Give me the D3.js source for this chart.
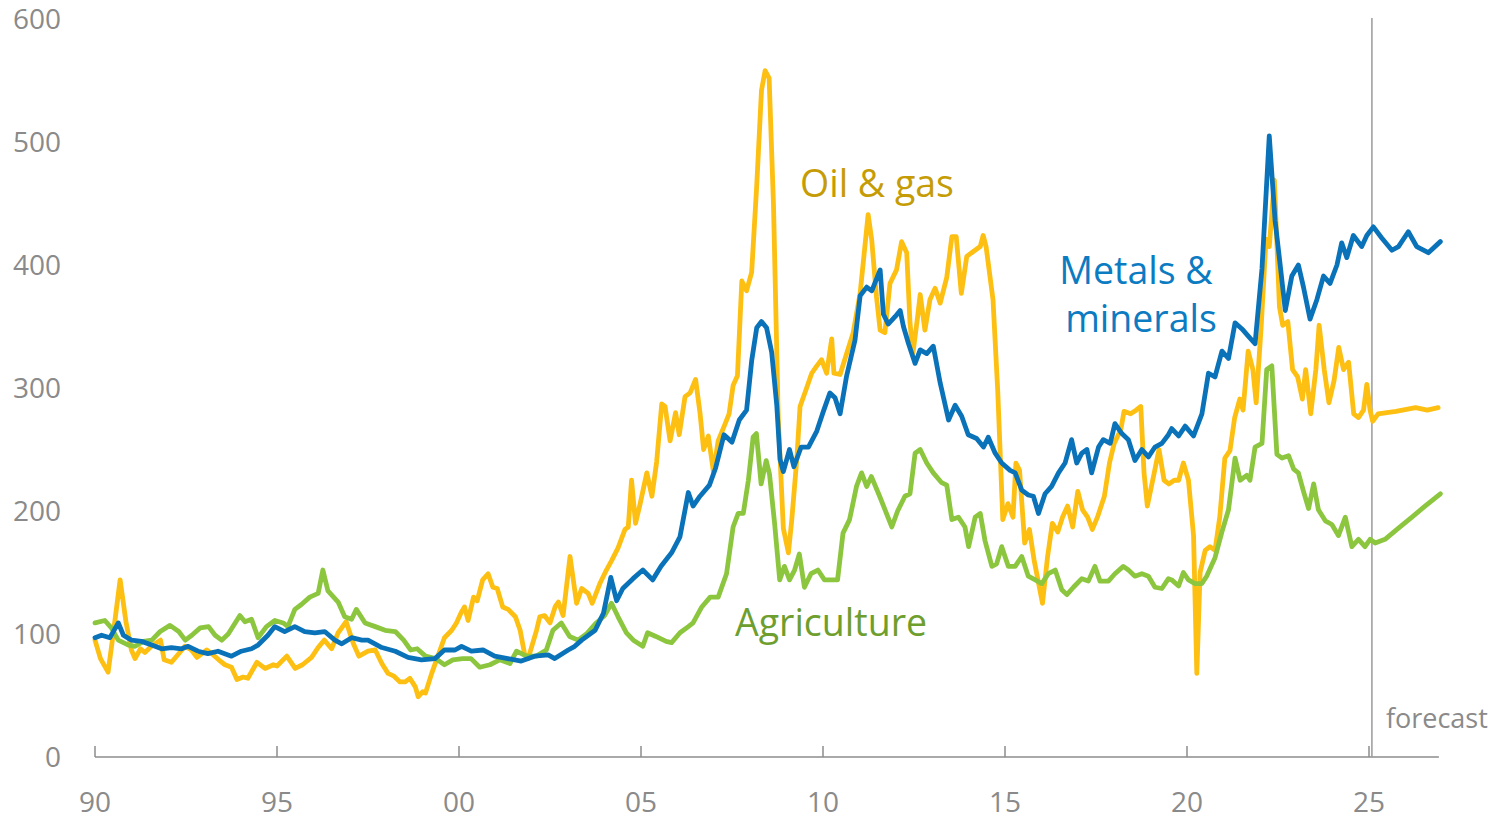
<!DOCTYPE html>
<html>
<head>
<meta charset="utf-8">
<script src="https://cdn.jsdelivr.net/npm/d3@7"></script>
<style>
  html, body { margin: 0; padding: 0; background: #fff; }
  svg { display: block; }
</style>
</head>
<body>
<svg id="chart" width="1494" height="819"></svg>
<script>
// Commodity price indices (1990 = 100), [decimal year, index value]
const oilGas = [
  [1990.00,95],[1990.15,80],[1990.36,69],[1990.50,100],[1990.69,144],[1990.85,110],[1991.00,87],[1991.10,80],
  [1991.25,88],[1991.37,85],[1991.55,90],[1991.70,93],[1991.80,95],[1991.90,79],[1992.10,77],[1992.30,84],
  [1992.47,90],[1992.65,87],[1992.80,81],[1993.07,87],[1993.25,83],[1993.40,79],[1993.57,75],[1993.75,73],
  [1993.90,63],[1994.07,65],[1994.20,64],[1994.45,77],[1994.67,72],[1994.90,75],[1995.00,74],[1995.27,82],
  [1995.50,72],[1995.70,75],[1995.95,81],[1996.13,89],[1996.30,95],[1996.50,88],[1996.68,101],[1996.90,110],
  [1997.10,92],[1997.25,82],[1997.50,86],[1997.70,87],[1997.88,76],[1998.05,68],[1998.20,66],[1998.38,61],
  [1998.52,61],[1998.65,64],[1998.80,57],[1998.88,49],[1999.00,53],[1999.08,52],[1999.25,68],[1999.42,82],
  [1999.60,97],[1999.80,103],[1999.93,109],[2000.07,118],[2000.15,122],[2000.25,111],[2000.40,130],[2000.50,127],
  [2000.65,144],[2000.80,149],[2000.93,138],[2001.05,137],[2001.20,122],[2001.35,120],[2001.55,114],[2001.68,103],
  [2001.80,84],[2001.90,80],[2002.13,103],[2002.22,114],[2002.35,115],[2002.50,109],[2002.64,122],[2002.73,126],
  [2002.86,115],[2003.05,163],[2003.23,125],[2003.37,137],[2003.55,133],[2003.66,125],[2003.87,141],[2004.05,152],
  [2004.20,160],[2004.37,170],[2004.56,185],[2004.65,187],[2004.74,225],[2004.85,190],[2004.97,205],[2005.16,231],
  [2005.30,212],[2005.43,240],[2005.57,287],[2005.66,285],[2005.80,257],[2005.95,280],[2006.05,262],[2006.21,293],
  [2006.35,296],[2006.50,307],[2006.62,280],[2006.72,250],[2006.85,261],[2006.99,232],[2007.12,257],[2007.30,270],
  [2007.42,279],[2007.53,302],[2007.65,310],[2007.77,387],[2007.90,379],[2008.04,394],[2008.18,465],[2008.31,542],
  [2008.41,558],[2008.52,552],[2008.64,449],[2008.77,276],[2008.91,186],[2009.05,166],[2009.14,192],[2009.28,242],
  [2009.37,285],[2009.55,300],[2009.69,312],[2009.83,318],[2009.96,323],[2010.10,312],[2010.24,340],[2010.30,312],
  [2010.47,311],[2010.65,328],[2010.83,345],[2011.02,377],[2011.24,441],[2011.34,420],[2011.47,374],[2011.57,347],
  [2011.70,345],[2011.84,385],[2012.02,396],[2012.16,419],[2012.30,410],[2012.39,353],[2012.47,328],[2012.60,358],
  [2012.67,376],[2012.80,347],[2012.94,372],[2013.08,381],[2013.22,369],[2013.40,390],[2013.54,423],[2013.66,423],
  [2013.80,377],[2013.95,407],[2014.13,411],[2014.32,415],[2014.40,424],[2014.48,415],[2014.67,372],[2014.80,298],
  [2014.94,193],[2015.08,206],[2015.22,195],[2015.30,239],[2015.40,233],[2015.54,174],[2015.67,185],[2015.80,160],
  [2016.03,125],[2016.17,163],[2016.30,190],[2016.45,183],[2016.58,195],[2016.72,204],[2016.86,187],[2017.00,216],
  [2017.13,201],[2017.27,195],[2017.40,185],[2017.54,195],[2017.73,212],[2017.87,239],[2018.00,255],[2018.18,266],
  [2018.27,281],[2018.45,279],[2018.60,282],[2018.73,285],[2018.82,231],[2018.91,204],[2019.10,231],[2019.23,250],
  [2019.37,225],[2019.50,222],[2019.65,225],[2019.77,225],[2019.90,239],[2020.04,225],[2020.18,180],[2020.27,68],
  [2020.36,150],[2020.50,168],[2020.63,171],[2020.77,168],[2020.90,195],[2021.04,243],[2021.18,249],[2021.31,276],
  [2021.45,291],[2021.54,282],[2021.68,330],[2021.81,315],[2021.90,288],[2022.04,351],[2022.17,421],[2022.26,415],
  [2022.40,469],[2022.54,366],[2022.63,351],[2022.77,354],[2022.90,315],[2023.04,309],[2023.17,291],[2023.26,315],
  [2023.40,279],[2023.54,315],[2023.63,351],[2023.77,315],[2023.90,288],[2024.04,306],[2024.17,333],[2024.30,315],
  [2024.44,321],[2024.58,279],[2024.71,276],[2024.85,282],[2024.94,303],[2025.03,282],[2025.10,273],[2025.25,279],
  [2025.74,281],[2026.28,284],[2026.60,282],[2026.90,284]
];

const metalsMinerals = [
  [1990.00,97],[1990.18,99],[1990.41,97],[1990.64,109],[1990.78,99],[1991.00,95],[1991.28,94],[1991.56,91],
  [1991.83,88],[1992.10,89],[1992.38,88],[1992.56,90],[1992.83,86],[1993.10,84],[1993.38,86],[1993.75,82],
  [1994.02,86],[1994.30,88],[1994.48,91],[1994.75,99],[1994.94,106],[1995.21,102],[1995.49,106],[1995.76,102],
  [1996.04,101],[1996.31,102],[1996.59,95],[1996.78,92],[1997.05,97],[1997.33,95],[1997.50,95],[1997.88,89],
  [1998.25,86],[1998.60,81],[1998.97,79],[1999.34,80],[1999.60,87],[1999.89,87],[2000.07,90],[2000.34,86],
  [2000.66,87],[2000.98,82],[2001.34,80],[2001.71,78],[2002.08,82],[2002.45,83],[2002.63,80],[2003.00,87],
  [2003.18,90],[2003.37,95],[2003.74,103],[2003.97,117],[2004.17,146],[2004.33,127],[2004.50,137],[2004.78,145],
  [2005.05,152],[2005.32,144],[2005.55,155],[2005.84,166],[2006.07,179],[2006.30,215],[2006.43,204],[2006.62,212],
  [2006.88,221],[2007.05,235],[2007.28,262],[2007.50,256],[2007.70,274],[2007.90,282],[2008.04,322],[2008.18,349],
  [2008.31,354],[2008.45,349],[2008.59,329],[2008.73,286],[2008.82,242],[2008.91,232],[2009.08,250],[2009.20,236],
  [2009.40,252],[2009.60,252],[2009.83,265],[2010.01,281],[2010.19,296],[2010.33,292],[2010.47,279],[2010.65,310],
  [2010.88,339],[2011.02,375],[2011.20,382],[2011.34,379],[2011.57,396],[2011.66,360],[2011.79,352],[2011.98,358],
  [2012.12,363],[2012.21,350],[2012.35,336],[2012.53,320],[2012.67,331],[2012.85,328],[2013.03,334],[2013.22,304],
  [2013.45,274],[2013.63,286],[2013.81,277],[2013.99,262],[2014.22,259],[2014.41,252],[2014.54,260],[2014.73,247],
  [2014.91,239],[2015.14,233],[2015.28,231],[2015.46,217],[2015.64,213],[2015.78,212],[2015.92,198],[2016.10,214],
  [2016.28,220],[2016.47,231],[2016.65,239],[2016.83,258],[2016.97,239],[2017.11,247],[2017.25,250],[2017.38,231],
  [2017.57,252],[2017.70,258],[2017.89,255],[2018.02,271],[2018.21,263],[2018.39,258],[2018.57,241],[2018.76,250],
  [2018.94,244],[2019.12,252],[2019.31,255],[2019.49,262],[2019.58,267],[2019.77,261],[2019.95,269],[2020.18,261],
  [2020.41,279],[2020.59,312],[2020.77,309],[2020.96,330],[2021.14,324],[2021.32,353],[2021.51,348],[2021.69,342],
  [2021.87,336],[2022.06,397],[2022.26,505],[2022.42,436],[2022.56,400],[2022.70,363],[2022.88,391],[2023.06,400],
  [2023.20,382],[2023.38,356],[2023.57,372],[2023.75,391],[2023.93,385],[2024.12,400],[2024.25,418],[2024.39,406],
  [2024.57,424],[2024.80,415],[2024.94,424],[2025.12,431],[2025.35,422],[2025.63,412],[2025.81,415],[2026.08,427],
  [2026.31,415],[2026.63,410],[2026.96,419]
];

const agriculture = [
  [1990.00,109],[1990.27,111],[1990.45,105],[1990.64,95],[1990.92,91],[1991.10,90],[1991.33,94],[1991.56,95],
  [1991.79,102],[1992.06,107],[1992.30,102],[1992.48,95],[1992.66,99],[1992.89,105],[1993.12,106],[1993.30,99],
  [1993.48,95],[1993.66,100],[1993.98,115],[1994.12,110],[1994.30,112],[1994.48,97],[1994.71,106],[1994.94,111],
  [1995.17,109],[1995.30,106],[1995.49,120],[1995.67,124],[1995.90,130],[1996.13,133],[1996.26,152],[1996.40,135],
  [1996.68,126],[1996.86,114],[1997.05,112],[1997.18,120],[1997.42,109],[1997.70,106],[1997.97,103],[1998.25,102],
  [1998.48,95],[1998.67,87],[1998.85,88],[1999.08,82],[1999.36,80],[1999.60,75],[1999.83,79],[2000.10,80],
  [2000.33,80],[2000.57,73],[2000.85,75],[2001.12,79],[2001.40,76],[2001.58,86],[2001.85,82],[2002.12,82],
  [2002.40,87],[2002.58,103],[2002.81,109],[2003.04,98],[2003.27,95],[2003.50,100],[2003.77,109],[2004.00,115],
  [2004.19,125],[2004.37,114],[2004.60,101],[2004.79,95],[2005.05,90],[2005.18,101],[2005.41,98],[2005.69,94],
  [2005.84,93],[2006.07,101],[2006.30,106],[2006.43,109],[2006.67,122],[2006.90,130],[2007.12,130],[2007.35,149],
  [2007.53,187],[2007.67,198],[2007.81,198],[2007.95,225],[2008.08,260],[2008.17,263],[2008.30,222],[2008.44,241],
  [2008.53,230],[2008.67,190],[2008.81,144],[2008.94,155],[2009.08,144],[2009.22,152],[2009.35,165],[2009.49,138],
  [2009.67,149],[2009.86,152],[2010.04,144],[2010.40,144],[2010.55,182],[2010.73,193],[2010.92,220],[2011.06,231],
  [2011.20,220],[2011.33,228],[2011.57,211],[2011.89,187],[2012.05,200],[2012.25,212],[2012.39,214],[2012.53,247],
  [2012.67,250],[2012.85,239],[2013.03,231],[2013.26,223],[2013.40,221],[2013.54,193],[2013.72,195],[2013.90,187],
  [2014.00,171],[2014.18,195],[2014.32,198],[2014.45,176],[2014.64,155],[2014.77,157],[2014.91,171],[2015.09,155],
  [2015.28,155],[2015.46,163],[2015.64,147],[2015.83,144],[2016.01,141],[2016.19,149],[2016.38,152],[2016.56,136],
  [2016.70,132],[2016.88,138],[2017.11,145],[2017.29,143],[2017.47,155],[2017.61,143],[2017.84,143],[2018.02,149],
  [2018.25,155],[2018.39,152],[2018.57,147],[2018.76,149],[2018.94,147],[2019.12,138],[2019.31,137],[2019.49,145],
  [2019.58,144],[2019.77,139],[2019.90,150],[2020.04,144],[2020.22,141],[2020.41,141],[2020.54,147],[2020.77,162],
  [2020.96,183],[2021.14,201],[2021.32,243],[2021.46,225],[2021.64,229],[2021.73,225],[2021.87,252],[2022.06,255],
  [2022.19,315],[2022.33,318],[2022.47,246],[2022.61,243],[2022.79,245],[2022.93,234],[2023.06,231],[2023.20,216],
  [2023.34,202],[2023.48,222],[2023.61,201],[2023.80,192],[2023.98,189],[2024.16,180],[2024.35,195],[2024.53,171],
  [2024.71,177],[2024.89,171],[2025.03,177],[2025.17,174],[2025.44,177],[2025.81,186],[2026.18,195],[2026.54,204],
  [2026.96,214]
];

const yTickValues = [0, 100, 200, 300, 400, 500, 600];
const xTickYears = [1990, 1995, 2000, 2005, 2010, 2015, 2020, 2025];
const xTickLabels = ["90", "95", "00", "05", "10", "15", "20", "25"];
const forecastStart = 2025.08;
const axisEndYear = 2026.92;

const colors = {
  oil: "#FDBF12",
  metals: "#0A72B8",
  agri: "#8CC63F",
  oilText: "#C59C05",
  metalsText: "#0B7BC2",
  agriText: "#6E9E2E",
  axis: "#8C8C8C",
  tickText: "#8A8A8A"
};

const svg = d3.select("#chart");
const font = "'Open Sans', 'Noto Sans', sans-serif";

const x = d3.scaleLinear().domain([1990, 2025]).range([95, 1369]);
const y = d3.scaleLinear().domain([0, 600]).range([757, 19]);

// Y tick labels (no axis line)
svg.append("g")
  .selectAll("text")
  .data(yTickValues)
  .join("text")
  .attr("x", 61)
  .attr("y", d => y(d))
  .attr("dy", "0.36em")
  .attr("text-anchor", "end")
  .attr("font-family", font)
  .attr("font-size", 28)
  .attr("fill", colors.tickText)
  .text(d => d);

// X axis baseline with upward ticks
const xAxis = svg.append("g");
xAxis.append("line")
  .attr("x1", x(1990)).attr("x2", x(axisEndYear))
  .attr("y1", y(0)).attr("y2", y(0))
  .attr("stroke", colors.axis).attr("stroke-width", 1.5);
xAxis.selectAll("line.tick")
  .data(xTickYears)
  .join("line")
  .attr("class", "tick")
  .attr("x1", d => x(d)).attr("x2", d => x(d))
  .attr("y1", y(0)).attr("y2", y(0) - 11)
  .attr("stroke", colors.axis).attr("stroke-width", 1.5);
xAxis.selectAll("text")
  .data(xTickYears)
  .join("text")
  .attr("x", d => x(d))
  .attr("y", 812)
  .attr("text-anchor", "middle")
  .attr("font-family", font)
  .attr("font-size", 28)
  .attr("fill", colors.tickText)
  .text((d, i) => xTickLabels[i]);

// Forecast divider
svg.append("line")
  .attr("x1", x(forecastStart)).attr("x2", x(forecastStart))
  .attr("y1", 18).attr("y2", y(0))
  .attr("stroke", "#9A9A9A").attr("stroke-width", 1.5);
svg.append("text")
  .attr("x", x(forecastStart) + 14)
  .attr("y", 728)
  .attr("font-family", font)
  .attr("font-size", 27)
  .attr("fill", colors.tickText)
  .text("forecast");

// Series lines
const line = d3.line()
  .x(d => x(d[0]))
  .y(d => y(d[1]));

const series = [
  { data: oilGas, color: colors.oil },
  { data: agriculture, color: colors.agri },
  { data: metalsMinerals, color: colors.metals }
];

svg.append("g")
  .selectAll("path")
  .data(series)
  .join("path")
  .attr("d", d => line(d.data))
  .attr("fill", "none")
  .attr("stroke", d => d.color)
  .attr("stroke-width", 4.8)
  .attr("stroke-linejoin", "round")
  .attr("stroke-linecap", "round");

// Series labels
svg.append("text")
  .attr("x", 800).attr("y", 197)
  .attr("font-family", font).attr("font-size", 37.5)
  .attr("fill", colors.oilText)
  .text("Oil & gas");

const metalsLabel = svg.append("text")
  .attr("font-family", font).attr("font-size", 37.5)
  .attr("fill", colors.metalsText)
  .attr("text-anchor", "middle");
metalsLabel.append("tspan").attr("x", 1136).attr("y", 284).text("Metals &");
metalsLabel.append("tspan").attr("x", 1141).attr("y", 332).text("minerals");

svg.append("text")
  .attr("x", 735).attr("y", 636)
  .attr("font-family", font).attr("font-size", 37.5)
  .attr("fill", colors.agriText)
  .text("Agriculture");
</script>
</body>
</html>
